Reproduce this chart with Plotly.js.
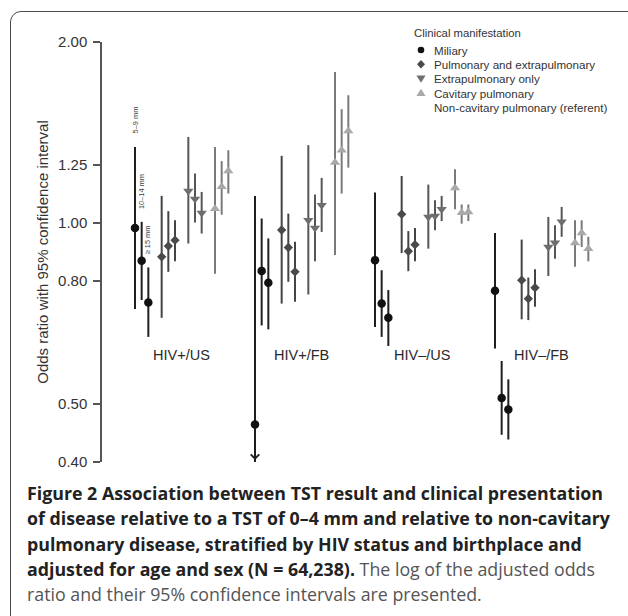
<!DOCTYPE html>
<html><head><meta charset="utf-8">
<script src="https://cdn.plot.ly/plotly-3.0.1.min.js"></script>
<style>
html,body{margin:0;padding:0;width:628px;height:616px;overflow:hidden;background:#fff;}
#frame{position:absolute;left:10px;top:11px;width:700px;height:700px;border:1.5px solid #4a4a4a;border-radius:11px;box-sizing:border-box;}
#chart{position:absolute;left:0;top:0;width:628px;height:616px;}
#caption{position:absolute;left:27px;top:481px;font-family:"Open Sans",sans-serif;font-size:17.8px;line-height:25.3px;color:#555;white-space:nowrap;}
#caption div{height:25.3px;}
#caption b{color:#222;font-weight:700;}
</style></head>
<body>
<div id="frame"></div>
<div id="chart"></div>
<div id="caption">
<div><b>Figure 2 Association between TST result and clinical presentation</b></div>
<div><b>of disease relative to a TST of 0–4 mm and relative to non-cavitary</b></div>
<div><b>pulmonary disease, stratified by HIV status and birthplace and</b></div>
<div><b>adjusted for age and sex (N = 64,238).</b> The log of the adjusted odds</div>
<div>ratio and their 95% confidence intervals are presented.</div>
</div>
<script>
// ---- data ----
const groups = ["HIV+/US", "HIV+/FB", "HIV–/US", "HIV–/FB"];
const tstLabels = ["5–9 mm", "10–14 mm", "≥ 15 mm"];
const seriesNames = ["Miliary", "Pulmonary and extrapulmonary", "Extrapulmonary only", "Cavitary pulmonary"];
const referentLabel = "Non-cavitary pulmonary (referent)";
const legendTitle = "Clinical manifestation";
const yTicks = [0.40, 0.50, 0.80, 1.00, 1.25, 2.00];
const yTickText = ["0.40", "0.50", "0.80", "1.00", "1.25", "2.00"];

// each array: 4 groups x 3 TST categories (5–9, 10–14, >=15)
const miliaryOR = [0.981, 0.865, 0.737, 0.462, 0.832, 0.795, 0.867, 0.734, 0.695, 0.771, 0.511, 0.489];
const miliaryLo = [0.719, 0.744, 0.646, 0.400, 0.675, 0.665, 0.671, 0.646, 0.624, 0.618, 0.444, 0.436];
const miliaryHi = [1.338, 1.004, 0.843, 1.108, 1.017, 0.942, 1.123, 0.834, 0.773, 0.962, 0.589, 0.549];

const pulmExtraOR = [0.878, 0.915, 0.936, 0.973, 0.910, 0.829, 1.034, 0.897, 0.920, 0.803, 0.748, 0.780];
const pulmExtraLo = [0.695, 0.829, 0.863, 0.734, 0.798, 0.739, 0.891, 0.831, 0.863, 0.691, 0.689, 0.725];
const pulmExtraHi = [1.109, 1.046, 1.010, 1.293, 1.036, 0.930, 1.197, 0.969, 0.981, 0.938, 0.811, 0.837];

const extraOR = [1.130, 1.096, 1.039, 1.010, 0.981, 1.070, 1.023, 1.027, 1.054, 0.912, 0.927, 1.004];
const extraLo = [0.924, 1.001, 0.960, 0.760, 0.863, 0.966, 0.906, 0.972, 1.007, 0.816, 0.872, 0.948];
const extraHi = [1.390, 1.208, 1.126, 1.347, 1.115, 1.188, 1.158, 1.091, 1.109, 1.023, 0.991, 1.063];

const cavOR = [1.056, 1.148, 1.220, 1.260, 1.321, 1.422, 1.143, 1.040, 1.043, 0.926, 0.962, 0.906];
const cavLo = [0.823, 1.032, 1.119, 0.884, 1.119, 1.236, 1.054, 0.997, 1.007, 0.845, 0.912, 0.863];
const cavHi = [1.338, 1.267, 1.321, 1.783, 1.546, 1.631, 1.228, 1.073, 1.073, 1.010, 1.010, 0.948];

// ---- styling ----
const axisMin = 0.40, axisMax = 2.00;
const markerSymbols = ["circle", "diamond", "triangle-down", "triangle-up"];
const markerColors = ["#111111", "#4a4a4a", "#6e6e6e", "#a9a9a9"];
const markerSizes = [8.5, 7.2, 9, 9];
const lineColors = ["#1e1e1e", "#444444", "#555555", "#7a7a7a"];
const groupStride = 18, seriesStride = 4;

const ORs = [miliaryOR, pulmExtraOR, extraOR, cavOR];
const LOs = [miliaryLo, pulmExtraLo, extraLo, cavLo];
const HIs = [miliaryHi, pulmExtraHi, extraHi, cavHi];

function xpos(g, s, t) { return g * groupStride + s * seriesStride + t; }

const traces = [];
const arrowAnns = [];
seriesNames.forEach((name, s) => {
  const x = [], y = [], up = [], down = [], txt = [];
  groups.forEach((gname, g) => {
    tstLabels.forEach((tl, t) => {
      const i = g * 3 + t;
      const or = ORs[s][i], lo = Math.max(LOs[s][i], axisMin), hi = HIs[s][i];
      x.push(xpos(g, s, t)); y.push(or);
      up.push(hi - or); down.push(or - lo);
      txt.push(gname + ", " + tl);
      if (LOs[s][i] <= axisMin) {
        arrowAnns.push({x: xpos(g, s, t), y: Math.log10(axisMin), xref: 'x', yref: 'y',
          text: '', showarrow: true, ax: 0, ay: -22, arrowhead: 4, arrowsize: 1.1,
          arrowwidth: 1.5, arrowcolor: lineColors[s], yshift: 2, standoff: 0});
      }
    });
  });
  traces.push({
    type: 'scatter', mode: 'markers', name: name, x: x, y: y, text: txt,
    marker: {symbol: markerSymbols[s], color: markerColors[s], size: markerSizes[s], line: {width: 0}},
    error_y: {type: 'data', symmetric: false, array: up, arrayminus: down,
      color: lineColors[s], thickness: 2, width: 0},
    hovertemplate: '%{text}<br>OR %{y:.2f}<extra>' + name + '</extra>'
  });
});

// pixel helpers for layout (paper coords)
const L = 102, R = 610, T = 42, B = 462;
const px = v => (v - L) / (R - L);
const py = v => (B - v) / (B - T);

const shapes = [];
[[1.25, 'dot', '#c4c4c4'], [0.80, 'dot', '#c4c4c4'], [1.00, '5px,3px', '#a8a8a8']].forEach(([v, d, c]) => {
  shapes.push({type: 'line', xref: 'paper', yref: 'y', x0: 0.002, x1: 1, y0: Math.log10(v), y1: Math.log10(v),
    line: {color: c, width: 1.2, dash: d}, layer: 'below'});
});

// legend (custom, compact)
const annotations = [];
const legX = 421, legTextX = 432, legRows = [50, 64.3, 78.6, 93, 107.3];
annotations.push({xref: 'paper', yref: 'paper', x: px(412), y: py(33), xanchor: 'left', yanchor: 'middle',
  text: legendTitle, showarrow: false, font: {size: 11.3, color: '#333'}});
const glyphPaths = [
  null,
  'M0,4.3 L4,0 L0,-4.3 L-4,0 Z',
  'M-4.6,3 L4.6,3 L0,-4.2 Z',
  'M-4.6,-3 L4.6,-3 L0,4.2 Z'
];
seriesNames.concat([referentLabel]).forEach((nm, k) => {
  annotations.push({xref: 'paper', yref: 'paper', x: px(legTextX), y: py(legRows[k]), xanchor: 'left', yanchor: 'middle',
    text: nm, showarrow: false, font: {size: 11.6, color: '#333'}});
  if (k < seriesNames.length) {
    if (k === 0) {
      shapes.push({type: 'circle', xref: 'paper', yref: 'paper', xsizemode: 'pixel', ysizemode: 'pixel',
        xanchor: px(legX), yanchor: py(legRows[k]), x0: -3.3, x1: 3.3, y0: -3.3, y1: 3.3,
        fillcolor: markerColors[k], line: {width: 0}});
    } else {
      shapes.push({type: 'path', xref: 'paper', yref: 'paper', xsizemode: 'pixel', ysizemode: 'pixel',
        xanchor: px(legX), yanchor: py(legRows[k]), path: glyphPaths[k],
        fillcolor: markerColors[k], line: {width: 0}});
    }
  }
});

// group labels
groups.forEach((gname, g) => {
  annotations.push({xref: 'x', yref: 'y', x: g * groupStride + 7, y: Math.log10(0.603),
    text: gname, showarrow: false, font: {size: 14.5, color: '#2a2a2a'}, xanchor: 'center', yanchor: 'middle'});
});

// TST category labels above first group's miliary bars
tstLabels.forEach((tl, t) => {
  annotations.push({xref: 'x', yref: 'y', x: xpos(0, 0, t), y: Math.log10(miliaryHi[t]),
    text: tl, showarrow: false, textangle: -90, font: {size: 7.4, color: '#444'},
    xanchor: 'center', yanchor: 'bottom', yshift: 11});
});

const layout = {
  width: 628, height: 616,
  margin: {l: L, r: 628 - R, t: T, b: 616 - B, pad: 0},
  paper_bgcolor: 'rgba(0,0,0,0)', plot_bgcolor: 'rgba(0,0,0,0)',
  showlegend: false,
  font: {family: '"Liberation Sans", Arial, sans-serif', color: '#333'},
  xaxis: {range: [-4.95, 71.25], visible: false, fixedrange: true},
  yaxis: {type: 'log', range: [Math.log10(axisMin), Math.log10(axisMax)],
    tickvals: yTicks, ticktext: yTickText, ticks: 'outside', ticklen: 7, tickwidth: 1.5,
    tickcolor: '#555', showline: true, linecolor: '#555', linewidth: 1.5,
    showgrid: false, zeroline: false, ticklabelstandoff: 3,
    tickfont: {size: 15, color: '#333'},
    title: {text: 'Odds ratio with 95% confidence interval', font: {size: 15, color: '#333'}, standoff: 6},
    fixedrange: true},
  shapes: shapes,
  annotations: annotations.concat(arrowAnns)
};

Plotly.newPlot('chart', traces, layout, {displayModeBar: false, staticPlot: false});
</script>
</body></html>
